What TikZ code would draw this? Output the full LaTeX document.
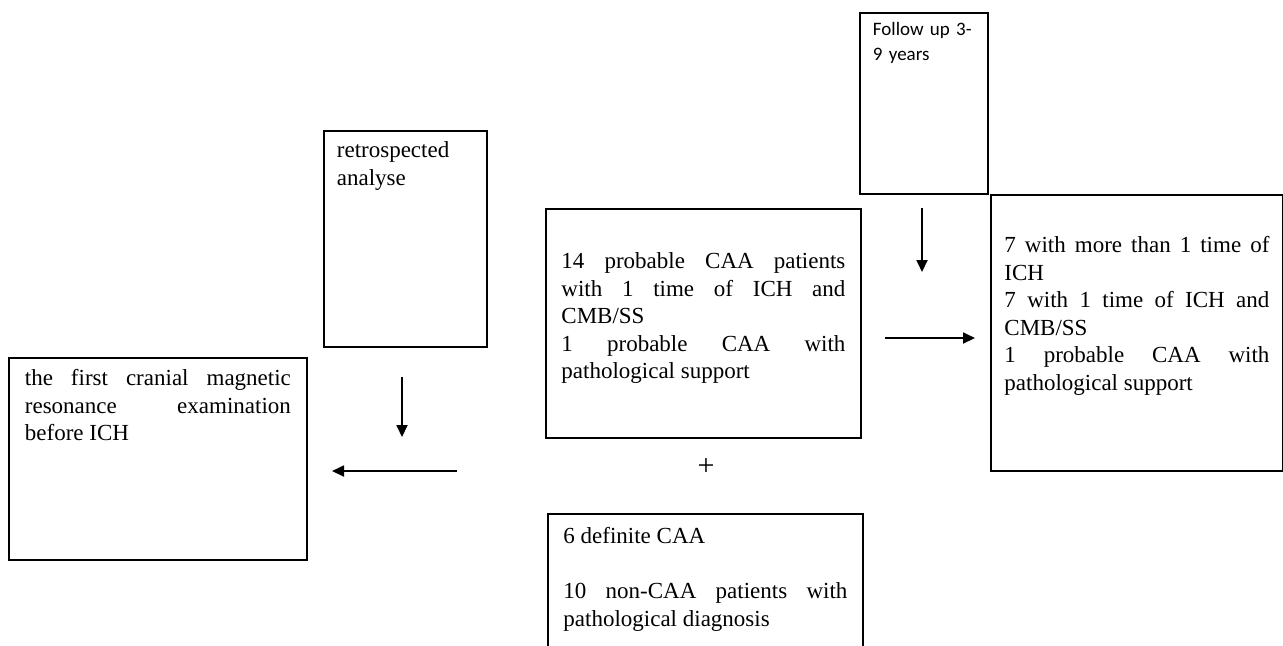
\documentclass[tikz,border=0pt]{standalone}
\usepackage{fontspec}
\setmainfont{Liberation Serif}
\newfontfamily\calibrifont{Carlito}
\usetikzlibrary{arrows.meta,positioning}
\hbadness=10000
\tolerance=10000
\tikzset{
    %Define standard arrow tip
    >={Triangle[length=6pt,width=5.5pt]},
    %Define style for boxes
    stagebox/.style={
           rectangle,
           draw=black, line width=0.9pt,
           anchor=north west,
           inner xsep=0pt,
           inner ysep=0pt,
           align=justify,
           font=\fontsize{11.5}{13.75}\selectfont},
    notebox/.style={
           stagebox,
           align=left,
           font=\calibrifont\fontsize{9.5}{12.5}\selectfont},
    % Define arrow style
    flow/.style={
           ->,
           line width=0.9pt}
}
\begin{document}
\begin{tikzpicture}[x=0.5pt,y=-0.5pt]
\useasboundingbox (0,0) rectangle (1283,645);
\clip (0,0) rectangle (1283,645);
\node[stagebox, minimum width=149pt, text width=133pt, text height=14pt, text depth=87pt]
  (1) at (8,357) {the first cranial magnetic\linebreak resonance examination\linebreak before ICH};
\node[stagebox, align=left, minimum width=81.5pt, text width=68.5pt, text height=13.5pt, text depth=94.5pt]
  (2) at (323,130) {retrospected\\analyse};
\node[stagebox, minimum width=157.5pt, text width=142pt, text height=30pt, text depth=84.5pt]
  (3) at (545,208) {14 probable CAA patients\linebreak with 1 time of ICH and\linebreak CMB/SS\par
  1 probable CAA with\linebreak pathological support};
\node[stagebox, minimum width=157.5pt, text width=142pt, text height=15pt, text depth=65pt]
  (4) at (547,513) {6 definite CAA\par\strut\par 10 non-CAA patients with\linebreak pathological diagnosis};
\node[notebox, minimum width=64pt, text width=51pt, text height=11.5pt, text depth=79pt]
  (5) at (859,12) {Follow up 3-\\9 years};
\node[stagebox, minimum width=146pt, text width=132.5pt, text height=29pt, text depth=109pt]
  (6) at (990,194) {7 with more than 1 time of\linebreak ICH\par 7 with 1 time of ICH and\linebreak CMB/SS\par
  1 probable CAA with\linebreak pathological support};
\node[font=\fontsize{15}{15}\selectfont] (7) at (706,467) {+};
% arrow ends
\coordinate (8) at (402,377);
\coordinate (9) at (402,437);
\coordinate (10) at (457,471);
\coordinate (11) at (332,471);
\coordinate (12) at (885,338);
\coordinate (13) at (975,338);
\coordinate (14) at (922,208);
\coordinate (15) at (922,272);
\path[flow]
    (8) edge (9)
    (10) edge (11)
    (12) edge (13)
    (14) edge (15);
\end{tikzpicture}
\end{document}
